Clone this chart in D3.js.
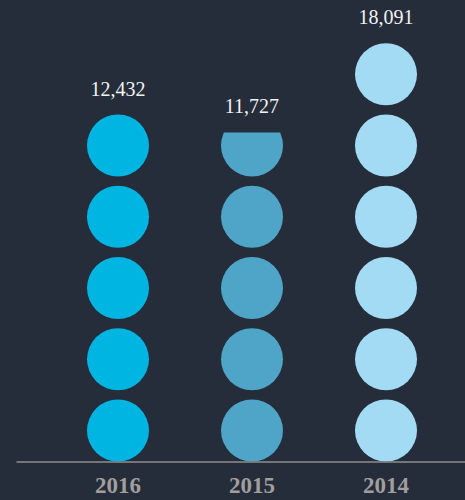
<!doctype html>
<html>
<head>
    <meta charset="utf-8">
    <script src="https://d3js.org/d3.v7.min.js"></script>
    <style>
        html, body { margin: 0; padding: 0; background: #252c3a; }
        svg { display: block; }
    </style>
</head>
<body>
<svg id="chart"></svg>

<script>

    // data
    var years = ["2016", "2015", "2014"];
    var values = [12432, 11727, 18091];
    var dots = [5, 4.71, 6];          // number of circles per column (last one may be partial)
    var colors = ["#00b5e2", "#4ea5c7", "#a3dbf4"];

    var width = 465,
        height = 500,
        baseline = 461.5,
        r = 31;

    var svg = d3.select("#chart")
        .attr("width", width)
        .attr("height", height);

    svg.append("rect")
        .attr("width", width)
        .attr("height", height)
        .attr("fill", "#252c3a");

    var x = d3.scalePoint()
        .domain(years)
        .range([118, 386]);

    // bottom edge of the n-th circle in a column
    var y = d3.scaleLinear()
        .domain([0, 1])
        .range([baseline, baseline - 71.25]);

    var defs = svg.append("defs");

    years.forEach(function (yr, k) {
        var n = dots[k];
        var full = Math.floor(n);
        var part = n - full;
        var g = svg.append("g");

        var items = d3.range(Math.ceil(n));
        items.forEach(function (i) {
            var frac = (i < full) ? 1 : part;
            var c = g.append("circle")
                .attr("cx", x(yr))
                .attr("cy", y(i) - r)
                .attr("r", r)
                .attr("fill", colors[k]);
            if (frac < 1) {
                var id = "clip" + k + "_" + i;
                defs.append("clipPath").attr("id", id)
                    .append("rect")
                    .attr("x", x(yr) - r - 1)
                    .attr("y", y(i) - 2 * r * frac)
                    .attr("width", 2 * r + 2)
                    .attr("height", 2 * r * frac + 1);
                c.attr("clip-path", "url(#" + id + ")");
            }
        });

        var top = y(Math.ceil(n) - 1) - 2 * r * (n - Math.ceil(n) + 1);

        svg.append("text")
            .attr("x", x(yr))
            .attr("y", top - 19)
            .attr("text-anchor", "middle")
            .attr("font-family", "'Liberation Serif', 'DejaVu Serif', serif")
            .attr("font-size", "20px")
            .attr("fill", "#f2f2f2")
            .text(d3.format(",")(values[k]));
    });

    // baseline
    svg.append("line")
        .attr("x1", 16.5)
        .attr("x2", width)
        .attr("y1", baseline + 0.5)
        .attr("y2", baseline + 0.5)
        .attr("stroke", "#8e8e8e")
        .attr("stroke-width", 1.5);

    var xAxis = svg.append("g");
    xAxis.selectAll("text")
        .data(years)
        .enter().append("text")
        .attr("x", function (d) { return x(d); })
        .attr("y", 493)
        .attr("text-anchor", "middle")
        .attr("font-family", "'Liberation Serif', 'DejaVu Serif', serif")
        .attr("font-weight", "bold")
        .attr("font-size", "23px")
        .attr("fill", "#a29e9e")
        .text(function (d) { return d; });

</script>
</body>
</html>
